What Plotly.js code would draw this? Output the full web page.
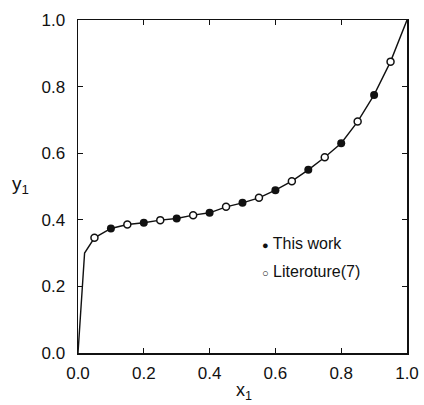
<!DOCTYPE html>
<html>
<head>
<meta charset="utf-8">
<script src="https://cdn.plot.ly/plotly-3.0.1.min.js"></script>
<style>html,body{margin:0;padding:0;background:#fff;}#plot{width:424px;height:405px;}</style>
</head>
<body>
<div id="plot"></div>
<script>
// Smoothed fit curve
const curveX = [0.0, 0.02, 0.05, 0.10, 0.15, 0.20, 0.25, 0.30, 0.35, 0.40, 0.45, 0.50, 0.55, 0.60, 0.65, 0.70, 0.75, 0.80, 0.85, 0.90, 0.95, 1.0];
const curveY = [0.0, 0.30, 0.346, 0.374, 0.386, 0.391, 0.399, 0.404, 0.414, 0.421, 0.439, 0.451, 0.466, 0.489, 0.516, 0.550, 0.588, 0.630, 0.695, 0.775, 0.875, 1.0];
// This work (filled)
const workX = [0.10, 0.20, 0.30, 0.40, 0.50, 0.60, 0.70, 0.80, 0.90];
const workY = [0.374, 0.391, 0.404, 0.421, 0.451, 0.489, 0.550, 0.630, 0.775];
// Literature (open)
const litX = [0.05, 0.15, 0.25, 0.35, 0.45, 0.55, 0.65, 0.75, 0.85, 0.95];
const litY = [0.346, 0.386, 0.399, 0.414, 0.439, 0.466, 0.516, 0.588, 0.695, 0.875];
const tickVals = [0, 0.2, 0.4, 0.6, 0.8, 1.0];
const tickText = ['0.0', '0.2', '0.4', '0.6', '0.8', '1.0'];

const FONT = 'Liberation Sans, Arial, sans-serif';

const traces = [
  {x: curveX, y: curveY, mode: 'lines', line: {color: '#111', width: 1.4}, showlegend: false, hoverinfo: 'skip'},
  {x: workX, y: workY, mode: 'markers', name: 'This work', marker: {symbol: 'circle', size: 8, color: '#111'}, showlegend: false},
  {x: litX, y: litY, mode: 'markers', name: 'Literoture(7)', marker: {symbol: 'circle', size: 7, color: '#fff', line: {color: '#111', width: 1.5}}, showlegend: false}
];

const axisCommon = {
  range: [0, 1], tickvals: tickVals, ticktext: tickText,
  ticks: 'inside', ticklen: 5, tickwidth: 1, tickcolor: '#111',
  showline: true, linecolor: '#111', linewidth: 1.5, mirror: 'ticks',
  showgrid: false, zeroline: false,
  tickfont: {family: FONT, size: 17, color: '#111'}
};

const layout = {
  width: 424, height: 405,
  margin: {l: 77.5, r: 17, t: 20, b: 52},
  paper_bgcolor: '#fff', plot_bgcolor: '#fff',
  xaxis: Object.assign({}, axisCommon, {ticklabelstandoff: 4}),
  yaxis: Object.assign({}, axisCommon, {ticklabelstandoff: 8}),
  showlegend: false,
  annotations: [
    {xref: 'paper', yref: 'paper', x: -0.175, y: 0.505, text: 'y<sub>1</sub>', showarrow: false, xanchor: 'center', yanchor: 'middle',
     font: {family: FONT, size: 19, color: '#111'}},
    {xref: 'paper', yref: 'paper', x: 0.505, y: -0.115, text: 'x<sub>1</sub>', showarrow: false, xanchor: 'center', yanchor: 'middle',
     font: {family: FONT, size: 18, color: '#111'}},
    {xref: 'paper', yref: 'paper', x: 0.552, y: 0.33, text: '<span style="font-size:11px">●</span> This work', showarrow: false, xanchor: 'left', yanchor: 'middle',
     font: {family: FONT, size: 16, color: '#111'}},
    {xref: 'paper', yref: 'paper', x: 0.552, y: 0.245, text: '<span style="font-size:11px">○</span> Literoture(7)', showarrow: false, xanchor: 'left', yanchor: 'middle',
     font: {family: FONT, size: 16, color: '#111'}}
  ]
};

Plotly.newPlot('plot', traces, layout, {displayModeBar: false, staticPlot: true});
</script>
</body>
</html>
